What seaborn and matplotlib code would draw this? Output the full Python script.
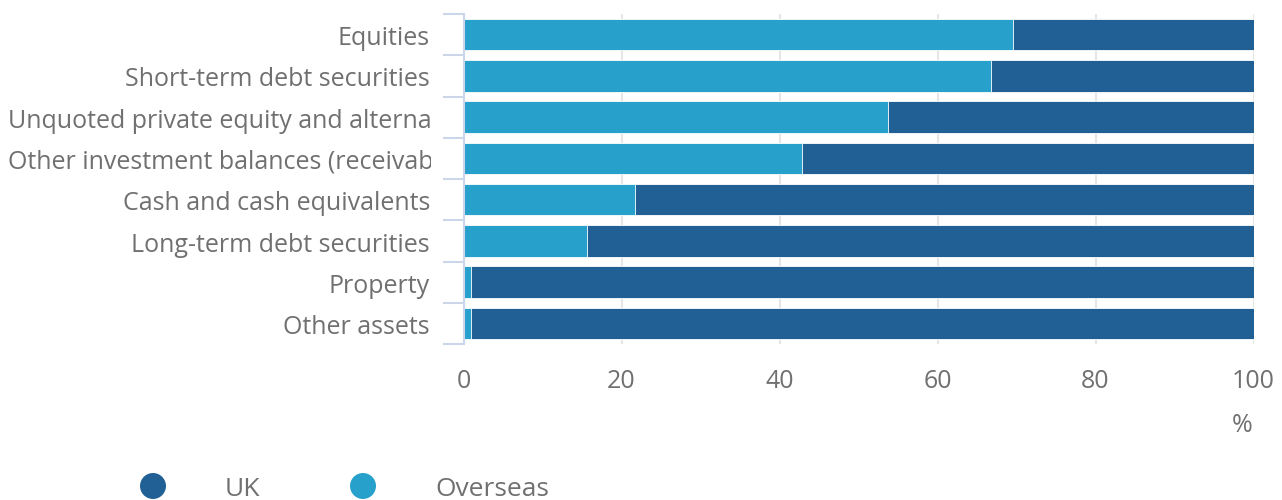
import matplotlib
matplotlib.use("Agg")
import matplotlib.pyplot as plt
import matplotlib.transforms as mtransforms
import numpy as np
import pandas as pd
import seaborn as sns

# Asset categories and the share held overseas vs in the UK (%)
categories = [
    "Equities",
    "Short-term debt securities",
    "Unquoted private equity and alternative investments",
    "Other investment balances (receivables and payables)",
    "Cash and cash equivalents",
    "Long-term debt securities",
    "Property",
    "Other assets",
]
overseas = [69.6, 66.8, 53.7, 42.8, 21.7, 15.6, 0.9, 0.9]
uk = [30.4, 33.2, 46.3, 57.2, 78.3, 84.4, 99.1, 99.1]
x_ticks = [0, 20, 40, 60, 80, 100]

UK_COLOR = "#206095"
OVERSEAS_COLOR = "#27a0cc"
TEXT_COLOR = "#707070"
AXIS_COLOR = "#ccd6eb"
GRID_COLOR = "#e6e6e6"
FS = 18

sns.set_theme(style="white")
plt.rcParams["font.family"] = ["Open Sans", "DejaVu Sans"]

W, H = 1282, 500
fig = plt.figure(figsize=(W / 100, H / 100), dpi=100)
ax = fig.add_axes([463.5 / W, 1 - 344 / H, 790 / W, 330 / H])

df = pd.DataFrame({"category": categories, "overseas": overseas, "uk": uk})
df["total"] = df["overseas"] + df["uk"]

# stacked bars: full (UK on top of overseas) first, then overseas in front
sns.barplot(data=df, x="total", y="category", color=UK_COLOR, width=0.76,
            orient="h", ax=ax, saturation=1, edgecolor="white", linewidth=0.6)
sns.barplot(data=df, x="overseas", y="category", color=OVERSEAS_COLOR, width=0.76,
            orient="h", ax=ax, saturation=1, edgecolor="white", linewidth=0.6)

ax.set_xlim(0, 100)
ax.set_ylim(len(categories) - 0.5, -0.5)
ax.set_xticks(x_ticks)
ax.set_xticklabels([str(t) for t in x_ticks], fontsize=FS, color=TEXT_COLOR)
ax.tick_params(axis="x", length=0, pad=18)
ax.grid(axis="x", color=GRID_COLOR, linewidth=1.5)
ax.set_axisbelow(True)
ax.set_xlabel("")
ax.set_ylabel("")

# category boundary ticks on the left axis
ax.set_yticks(np.arange(-0.5, len(categories), 1.0))
ax.set_yticklabels([])
ax.tick_params(axis="y", length=15, width=1.5, color=AXIS_COLOR, left=True)

for side in ["top", "right", "bottom"]:
    ax.spines[side].set_visible(False)
ax.spines["left"].set_color(AXIS_COLOR)
ax.spines["left"].set_linewidth(1.5)

# category labels, right-aligned; long ones are cut at the label area edge
renderer = fig.canvas.get_renderer()
trans = mtransforms.blended_transform_factory(fig.transFigure, ax.transData)
clip = mtransforms.Bbox([[0, 0], [431, H]])
for i, name in enumerate(categories):
    y = i + 0.1
    t = ax.text(430 / W, y, name, transform=trans, ha="right", va="center",
                fontsize=FS, color=TEXT_COLOR)
    bb = t.get_window_extent(renderer=renderer)
    if bb.x0 < 8:
        t.set_position((8 / W, y))
        t.set_ha("left")
        t.set_clip_box(clip)
        t.set_clip_on(True)

fig.text(1242 / W, 1 - 426 / H, "%", ha="center", va="center",
         fontsize=FS, color=TEXT_COLOR)

# legend
lax = fig.add_axes([0, 0, 1, 1])
lax.set_xlim(0, W)
lax.set_ylim(H, 0)
lax.axis("off")
lax.scatter([153, 363], [486, 486], s=350, c=[UK_COLOR, OVERSEAS_COLOR],
            linewidths=0, clip_on=False)
lax.text(225, 489, "UK", ha="left", va="center", fontsize=19, color=TEXT_COLOR)
lax.text(435, 489, "Overseas", ha="left", va="center", fontsize=19, color=TEXT_COLOR)

fig.savefig("out.png", dpi=100, facecolor="white")
